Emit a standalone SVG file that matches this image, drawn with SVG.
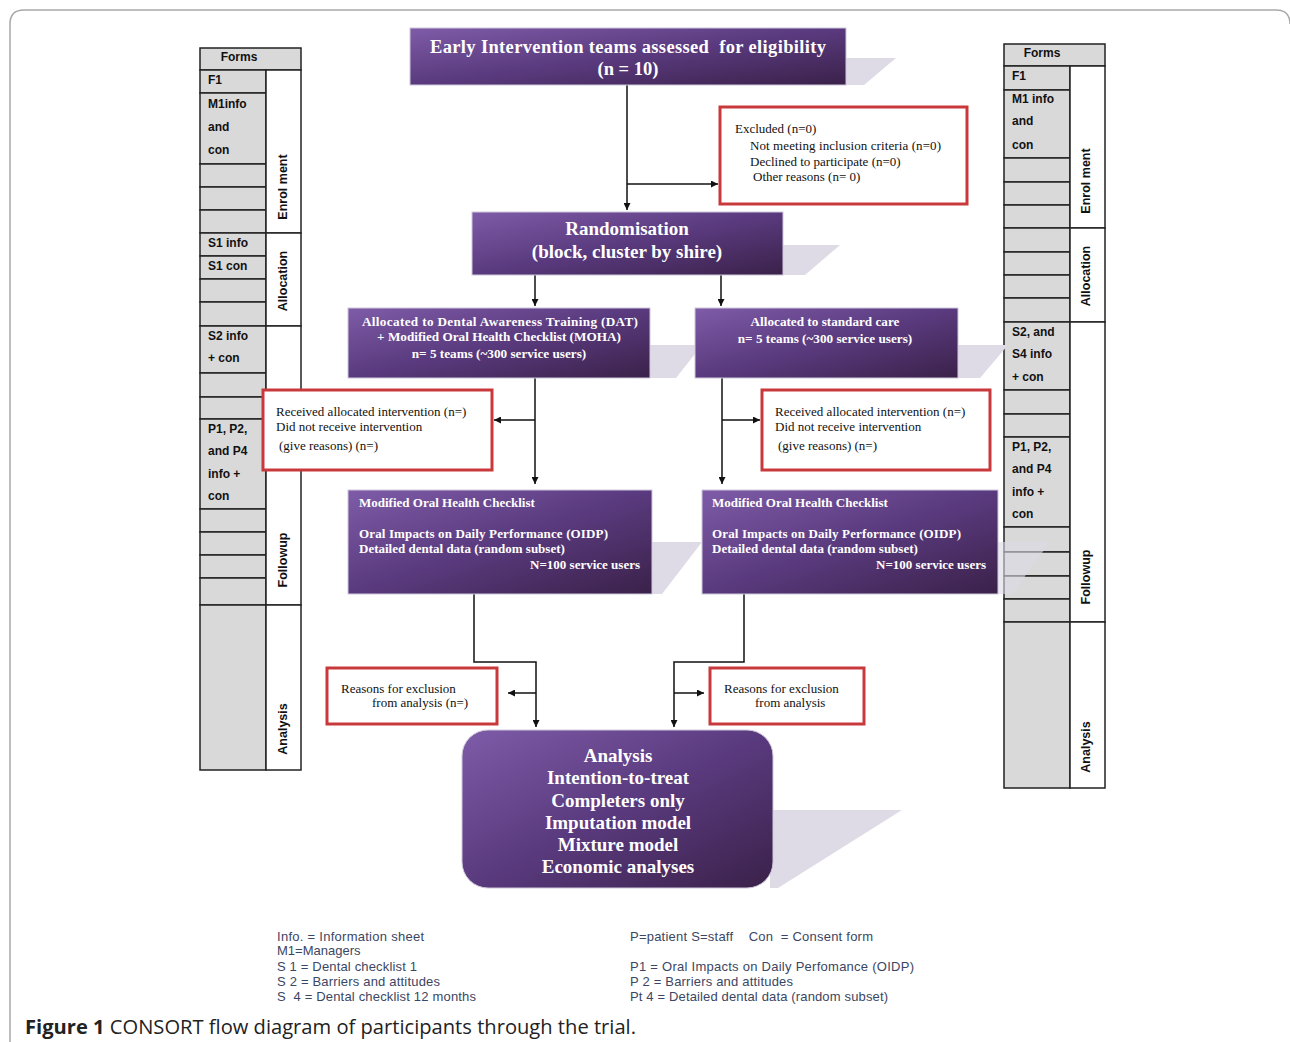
<svg xmlns="http://www.w3.org/2000/svg" width="1290" height="1042" viewBox="0 0 1290 1042">
<style>
.cell{fill:#d9d9d9;stroke:#222;stroke-width:1.5}
.sec{fill:#fff;stroke:#222;stroke-width:1.5}
.ct{font-family:"Liberation Sans",Arial,sans-serif;font-weight:bold;font-size:12px;fill:#111}
.st{font-family:"Liberation Sans",Arial,sans-serif;font-weight:bold;font-size:12.5px;fill:#111}
.pb{fill:url(#pg);stroke:#cfc8dc;stroke-width:1}
.sh{fill:#dedbe6}
.wt{font-family:"Liberation Serif","Times New Roman",serif;font-weight:bold;fill:#fff}
.rb{fill:#fff;stroke:#c9393c;stroke-width:3}
.rt{font-family:"Liberation Serif","Times New Roman",serif;font-size:13px;fill:#111}
.ln{stroke:#111;stroke-width:1.5;fill:none}
.lg{font-family:"Liberation Sans",Arial,sans-serif;font-size:13px;fill:#3b4663}
</style>
<defs>
<linearGradient id="pg" x1="0" y1="0" x2="1" y2="1">
<stop offset="0" stop-color="#7e5ca8"/>
<stop offset="0.5" stop-color="#5a3a7e"/>
<stop offset="1" stop-color="#3a2149"/>
</linearGradient>
<marker id="ah" viewBox="0 0 10 10" refX="10" refY="5" markerWidth="7" markerHeight="7" orient="auto" markerUnits="userSpaceOnUse">
<path d="M0,0 L10,5 L0,10 z" fill="#111"/>
</marker>
</defs>
<rect width="1290" height="1042" fill="#fff"/>
<path d="M10,1042 V24 Q10,10 24,10 H1276 Q1290,10 1290,24" fill="none" stroke="#a8a8a8" stroke-width="1.5"/>

<!-- Left forms table -->
<g id="forms-left">
<rect class="cell" x="200" y="48" width="101" height="22"/>
<text class="ct" x="239" y="61" text-anchor="middle">Forms</text>
<rect class="cell" x="200" y="70" width="66" height="23"/>
<rect class="cell" x="200" y="93" width="66" height="71"/>
<rect class="cell" x="200" y="164" width="66" height="23"/>
<rect class="cell" x="200" y="187" width="66" height="23"/>
<rect class="cell" x="200" y="210" width="66" height="23"/>
<rect class="cell" x="200" y="233" width="66" height="23"/>
<rect class="cell" x="200" y="256" width="66" height="23"/>
<rect class="cell" x="200" y="279" width="66" height="23"/>
<rect class="cell" x="200" y="302" width="66" height="24"/>
<rect class="cell" x="200" y="326" width="66" height="47"/>
<rect class="cell" x="200" y="373" width="66" height="24"/>
<rect class="cell" x="200" y="397" width="66" height="22"/>
<rect class="cell" x="200" y="419" width="66" height="90"/>
<rect class="cell" x="200" y="509" width="66" height="23"/>
<rect class="cell" x="200" y="532" width="66" height="23"/>
<rect class="cell" x="200" y="555" width="66" height="23"/>
<rect class="cell" x="200" y="578" width="66" height="27"/>
<rect class="cell" x="200" y="605" width="66" height="165"/>
<rect class="sec" x="266" y="70" width="35" height="163"/>
<rect class="sec" x="266" y="233" width="35" height="93"/>
<rect class="sec" x="266" y="326" width="35" height="279"/>
<rect class="sec" x="266" y="605" width="35" height="165"/>
<text class="ct" x="208" y="84">F1</text>
<text class="ct" x="208" y="108">M1info</text>
<text class="ct" x="208" y="131">and</text>
<text class="ct" x="208" y="154">con</text>
<text class="ct" x="208" y="247">S1 info</text>
<text class="ct" x="208" y="270">S1 con</text>
<text class="ct" x="208" y="340">S2 info</text>
<text class="ct" x="208" y="362">+ con</text>
<text class="ct" x="208" y="433">P1, P2,</text>
<text class="ct" x="208" y="455">and P4</text>
<text class="ct" x="208" y="478">info +</text>
<text class="ct" x="208" y="500">con</text>
<text class="st" transform="translate(287,187) rotate(-90)" text-anchor="middle">Enrol ment</text>
<text class="st" transform="translate(287,281) rotate(-90)" text-anchor="middle">Allocation</text>
<text class="st" transform="translate(287,560) rotate(-90)" text-anchor="middle">Followup</text>
<text class="st" transform="translate(287,729) rotate(-90)" text-anchor="middle">Analysis</text>
</g>

<!-- Right forms table -->
<g id="forms-right">
<rect class="cell" x="1004" y="44" width="101" height="22"/>
<text class="ct" x="1042" y="57" text-anchor="middle">Forms</text>
<rect class="cell" x="1004" y="66" width="66" height="24"/>
<rect class="cell" x="1004" y="90" width="66" height="68"/>
<rect class="cell" x="1004" y="158" width="66" height="24"/>
<rect class="cell" x="1004" y="182" width="66" height="23"/>
<rect class="cell" x="1004" y="205" width="66" height="23"/>
<rect class="cell" x="1004" y="228" width="66" height="24"/>
<rect class="cell" x="1004" y="252" width="66" height="23"/>
<rect class="cell" x="1004" y="275" width="66" height="23"/>
<rect class="cell" x="1004" y="298" width="66" height="24"/>
<rect class="cell" x="1004" y="322" width="66" height="68"/>
<rect class="cell" x="1004" y="390" width="66" height="24"/>
<rect class="cell" x="1004" y="414" width="66" height="23"/>
<rect class="cell" x="1004" y="437" width="66" height="90"/>
<rect class="cell" x="1004" y="527" width="66" height="25"/>
<rect class="cell" x="1004" y="552" width="66" height="24"/>
<rect class="cell" x="1004" y="576" width="66" height="23"/>
<rect class="cell" x="1004" y="599" width="66" height="23"/>
<rect class="cell" x="1004" y="622" width="66" height="166"/>
<rect class="sec" x="1070" y="66" width="35" height="162"/>
<rect class="sec" x="1070" y="228" width="35" height="94"/>
<rect class="sec" x="1070" y="322" width="35" height="300"/>
<rect class="sec" x="1070" y="622" width="35" height="166"/>
<text class="ct" x="1012" y="80">F1</text>
<text class="ct" x="1012" y="103">M1 info</text>
<text class="ct" x="1012" y="125">and</text>
<text class="ct" x="1012" y="149">con</text>
<text class="ct" x="1012" y="336">S2, and</text>
<text class="ct" x="1012" y="358">S4 info</text>
<text class="ct" x="1012" y="381">+ con</text>
<text class="ct" x="1012" y="451">P1, P2,</text>
<text class="ct" x="1012" y="473">and P4</text>
<text class="ct" x="1012" y="496">info +</text>
<text class="ct" x="1012" y="518">con</text>
<text class="st" transform="translate(1090,181) rotate(-90)" text-anchor="middle">Enrol ment</text>
<text class="st" transform="translate(1090,276) rotate(-90)" text-anchor="middle">Allocation</text>
<text class="st" transform="translate(1090,577) rotate(-90)" text-anchor="middle">Followup</text>
<text class="st" transform="translate(1090,747) rotate(-90)" text-anchor="middle">Analysis</text>
</g>

<!-- Shadows -->
<g id="shadows">
<polygon class="sh" points="846,58 896,58 864,85 846,85"/>
<polygon class="sh" points="783,245 840,245 805,275 783,275"/>
<polygon class="sh" points="650,345 702,345 676,378 650,378"/>
<polygon class="sh" points="958,345 1008,345 980,378 958,378"/>
<polygon class="sh" points="652,542 702,542 662,594 652,594"/>
<polygon class="sh" points="998,542 1050,542 1012,594 998,594" opacity="0.6"/>
<polygon class="sh" points="770,810 902,810 778,888 770,888"/>
</g>

<!-- Connectors -->
<g id="connectors">
<line class="ln" x1="627" y1="85" x2="627" y2="210" marker-end="url(#ah)"/>
<line class="ln" x1="627" y1="184" x2="718" y2="184" marker-end="url(#ah)"/>
<line class="ln" x1="535" y1="275" x2="535" y2="306" marker-end="url(#ah)"/>
<line class="ln" x1="721" y1="275" x2="721" y2="306" marker-end="url(#ah)"/>
<line class="ln" x1="535" y1="378" x2="535" y2="484" marker-end="url(#ah)"/>
<line class="ln" x1="535" y1="420" x2="494" y2="420" marker-end="url(#ah)"/>
<line class="ln" x1="722" y1="378" x2="722" y2="484" marker-end="url(#ah)"/>
<line class="ln" x1="722" y1="420" x2="760" y2="420" marker-end="url(#ah)"/>
<polyline class="ln" points="474,594 474,662 536,662 536,727" marker-end="url(#ah)"/>
<line class="ln" x1="536" y1="693" x2="508" y2="693" marker-end="url(#ah)"/>
<polyline class="ln" points="744,594 744,662 674,662 674,727" marker-end="url(#ah)"/>
<line class="ln" x1="674" y1="693" x2="704" y2="693" marker-end="url(#ah)"/>
</g>

<g id="eligibility">
<rect class="pb" x="410" y="28" width="436" height="57"/>
<text class="wt" x="430" y="53" font-size="18.5" textLength="396" lengthAdjust="spacing" xml:space="preserve">Early Intervention teams assessed  for eligibility</text>
<text class="wt" x="628" y="75" font-size="18.5" text-anchor="middle">(n = 10)</text>
</g>

<g id="excluded">
<rect class="rb" x="720" y="107" width="247" height="97"/>
<text class="rt" x="735" y="133">Excluded (n=0)</text>
<text class="rt" x="750" y="150" textLength="191">Not meeting inclusion criteria (n=0)</text>
<text class="rt" x="750" y="166">Declined to participate (n=0)</text>
<text class="rt" x="753" y="181">Other reasons (n= 0)</text>
</g>

<g id="randomisation">
<rect class="pb" x="472" y="212" width="311" height="63"/>
<text class="wt" x="627" y="235" font-size="19" text-anchor="middle">Randomisation</text>
<text class="wt" x="627" y="258" font-size="19" text-anchor="middle">(block, cluster by shire)</text>
</g>

<g id="alloc-dat">
<rect class="pb" x="348" y="308" width="302" height="70"/>
<text class="wt" x="362" y="326" font-size="13.2" textLength="276">Allocated to Dental Awareness Training (DAT)</text>
<text class="wt" x="499" y="341" font-size="13.2" text-anchor="middle">+ Modified Oral Health Checklist (MOHA)</text>
<text class="wt" x="499" y="358" font-size="13.2" text-anchor="middle">n= 5 teams (~300 service users)</text>
</g>

<g id="alloc-standard">
<rect class="pb" x="695" y="308" width="263" height="70"/>
<text class="wt" x="825" y="326" font-size="13.2" text-anchor="middle">Allocated to standard care</text>
<text class="wt" x="825" y="343" font-size="13.2" text-anchor="middle">n= 5 teams (~300 service users)</text>
</g>

<g id="received-left">
<rect class="rb" x="263" y="390" width="229" height="80"/>
<text class="rt" x="276" y="416">Received allocated intervention (n=)</text>
<text class="rt" x="276" y="431">Did not receive intervention</text>
<text class="rt" x="279" y="450">(give reasons) (n=)</text>
</g>

<g id="received-right">
<rect class="rb" x="762" y="390" width="228" height="80"/>
<text class="rt" x="775" y="416">Received allocated intervention (n=)</text>
<text class="rt" x="775" y="431">Did not receive intervention</text>
<text class="rt" x="778" y="450">(give reasons) (n=)</text>
</g>

<g id="checklist-left">
<rect class="pb" x="348" y="490" width="304" height="104"/>
<text class="wt" x="359" y="507" font-size="13">Modified Oral Health Checklist</text>
<text class="wt" x="359" y="538" font-size="13" textLength="249">Oral Impacts on Daily Performance (OIDP)</text>
<text class="wt" x="359" y="553" font-size="13">Detailed dental data (random subset)</text>
<text class="wt" x="640" y="569" font-size="13" text-anchor="end">N=100 service users</text>
</g>

<g id="checklist-right">
<rect class="pb" x="702" y="490" width="296" height="104"/>
<text class="wt" x="712" y="507" font-size="13">Modified Oral Health Checklist</text>
<text class="wt" x="712" y="538" font-size="13" textLength="249">Oral Impacts on Daily Performance (OIDP)</text>
<text class="wt" x="712" y="553" font-size="13">Detailed dental data (random subset)</text>
<text class="wt" x="986" y="569" font-size="13" text-anchor="end">N=100 service users</text>
</g>

<g id="reasons-left">
<rect class="rb" x="327" y="668" width="170" height="56"/>
<text class="rt" x="341" y="693">Reasons for exclusion</text>
<text class="rt" x="372" y="707">from analysis (n=)</text>
</g>

<g id="reasons-right">
<rect class="rb" x="710" y="668" width="154" height="56"/>
<text class="rt" x="724" y="693">Reasons for exclusion</text>
<text class="rt" x="755" y="707">from analysis</text>
</g>

<g id="analysis">
<rect class="pb" x="462" y="730" width="311" height="158" rx="26" ry="26"/>
<g font-size="19" text-anchor="middle">
<text class="wt" x="618" y="762">Analysis</text>
<text class="wt" x="618" y="784">Intention-to-treat</text>
<text class="wt" x="618" y="807">Completers only</text>
<text class="wt" x="618" y="829">Imputation model</text>
<text class="wt" x="618" y="851">Mixture model</text>
<text class="wt" x="618" y="873">Economic analyses</text>
</g>
</g>

<g id="legend">
<text class="lg" x="277" y="941" textLength="147">Info. = Information sheet</text>
<text class="lg" x="277" y="955">M1=Managers</text>
<text class="lg" x="277" y="971" textLength="140">S 1 = Dental checklist 1</text>
<text class="lg" x="277" y="986" textLength="163">S 2 = Barriers and attitudes</text>
<text class="lg" x="277" y="1001" textLength="199" xml:space="preserve">S  4 = Dental checklist 12 months</text>
<text class="lg" x="630" y="941" textLength="243" xml:space="preserve">P=patient S=staff    Con  = Consent form</text>
<text class="lg" x="630" y="971" textLength="284">P1 = Oral Impacts on Daily Perfomance (OIDP)</text>
<text class="lg" x="630" y="986" textLength="163">P 2 = Barriers and attitudes</text>
<text class="lg" x="630" y="1001" textLength="258">Pt 4 = Detailed dental data (random subset)</text>
</g>

<text x="25" y="1034" font-family="'Open Sans','Noto Sans',sans-serif" font-size="19.5" fill="#222" textLength="611" lengthAdjust="spacingAndGlyphs"><tspan font-weight="bold">Figure 1</tspan> CONSORT flow diagram of participants through the trial.</text>
</svg>
